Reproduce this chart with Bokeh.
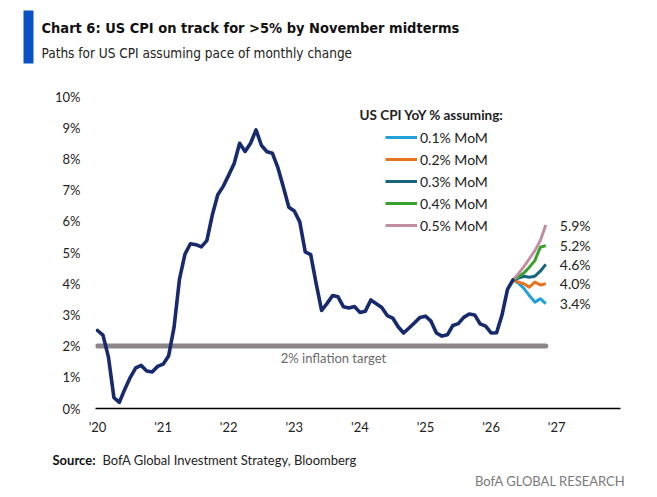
from bokeh.plotting import figure
from bokeh.layouts import column
from bokeh.models import (Range1d, FixedTicker, Label, Legend, LegendItem,
                          ColumnDataSource)
from bokeh.core.properties import value
from bokeh.embed import file_html
from bokeh.resources import INLINE

# ---------------- data ----------------
# US CPI YoY %, monthly, Jan 2020 .. May 2026
cpi = [2.50, 2.35, 1.65, 0.35, 0.20, 0.62, 1.00, 1.30, 1.38, 1.20, 1.17, 1.35,
       1.42, 1.68, 2.60, 4.15, 4.95, 5.28, 5.25, 5.18, 5.38, 6.20, 6.85, 7.12,
       7.48, 7.85, 8.50, 8.24, 8.50, 8.93, 8.43, 8.23, 8.18, 7.72, 7.10, 6.45,
       6.33, 5.98, 5.02, 4.93, 4.00, 3.14, 3.37, 3.62, 3.58, 3.26, 3.22, 3.27,
       3.08, 3.12, 3.48, 3.36, 3.24, 2.98, 2.90, 2.62, 2.42, 2.58, 2.75, 2.92,
       2.96, 2.80, 2.42, 2.32, 2.36, 2.66, 2.72, 2.92, 3.03, 3.00, 2.71, 2.64,
       2.42, 2.43, 3.00, 3.82, 4.12]
months = list(range(len(cpi)))  # month index, 0 = Jan 2020

# projections May 2026 .. Nov 2026
proj_months = list(range(76, 83))
proj_01 = [4.12, 4.02, 3.85, 3.62, 3.41, 3.52, 3.36]
proj_02 = [4.12, 4.05, 4.00, 3.89, 4.05, 3.96, 4.00]
proj_03 = [4.12, 4.18, 4.24, 4.21, 4.24, 4.40, 4.62]
proj_04 = [4.12, 4.22, 4.34, 4.53, 4.74, 5.17, 5.22]
proj_05 = [4.12, 4.32, 4.55, 4.80, 5.06, 5.38, 5.88]
proj_names = ["0.1% MoM", "0.2% MoM", "0.3% MoM", "0.4% MoM", "0.5% MoM"]
proj_colors = ["#22a0dc", "#e8731e", "#17657c", "#36a12b", "#c38ea3"]

target = 2.0
year_ticks = [0, 12, 24, 36, 48, 60, 72, 84]
year_labels = ["'20", "'21", "'22", "'23", "'24", "'25", "'26", "'27"]
y_ticks = list(range(0, 11))
y_labels = [f"{v}%" for v in y_ticks]

title_text = "Chart 6: US CPI on track for >5% by November midterms"
subtitle_text = "Paths for US CPI assuming pace of monthly change"
legend_title = "US CPI YoY % assuming:"
target_text = "2% inflation target"
source_bold = "Source:"
source_text = "BofA Global Investment Strategy, Bloomberg"
brand_text = "BofA GLOBAL RESEARCH"

# ---------------- layout ----------------
W = 657
HEAD_H, MAIN_H, FOOT_H = 78, 367, 52
FL, FR = 95, 620                 # frame left/right px
FT, FB = 90 - HEAD_H, 408 - HEAD_H   # frame top/bottom within main figure
X0, PXM = 97.0, 65.6 / 12        # px of month 0, px per month
PXP = 31.2                       # px per 1 %

def xd(px):
    return (px - X0) / PXM

def yd(py):
    return (FB - py) / PXP

FONT = value("Lato")
NARROW = value("'DejaVu Sans Condensed', Lato")


def blank(h):
    f = figure(width=W, height=h, output_backend="svg", toolbar_location=None,
               x_range=Range1d(0, W), y_range=Range1d(h, 0),
               x_axis_type=None, y_axis_type=None, min_border=0,
               frame_align=False)
    f.outline_line_color = None
    f.xgrid.grid_line_color = None
    f.ygrid.grid_line_color = None
    return f


# header
head = blank(HEAD_H)
head.quad(left=[23], right=[33], top=[10], bottom=[63], fill_color="#0a52c4",
          line_color=None)
head.text([41], [27], text=[title_text], text_baseline="middle", text_font=NARROW,
          text_font_style="bold", text_font_size="14.5px", text_color="#111111")
head.text([41], [52], text=[subtitle_text], text_baseline="middle", text_font=NARROW,
          text_font_size="13.5px", text_color="#222222")

# main chart
p = figure(width=W, height=MAIN_H, output_backend="svg", toolbar_location=None,
           x_range=Range1d(xd(FL), xd(FR)), y_range=Range1d(0, yd(FT)),
           min_border_left=FL, min_border_right=W - FR,
           min_border_top=FT, min_border_bottom=MAIN_H - FB, frame_align=False)
p.outline_line_color = None
p.xgrid.grid_line_color = None
p.ygrid.grid_line_color = None

p.xaxis.ticker = FixedTicker(ticks=year_ticks)
p.xaxis.major_label_overrides = {t: l for t, l in zip(year_ticks, year_labels)}
p.xaxis.axis_line_color = "black"
p.xaxis.axis_line_width = 1.6
p.xaxis.major_tick_line_color = None
p.xaxis.minor_tick_line_color = None
p.xaxis.major_tick_out = 0
p.xaxis.major_label_standoff = 10
p.yaxis.ticker = FixedTicker(ticks=y_ticks)
p.yaxis.major_label_overrides = {t: l for t, l in zip(y_ticks, y_labels)}
p.yaxis.axis_line_color = None
p.yaxis.major_tick_line_color = None
p.yaxis.minor_tick_line_color = None
p.yaxis.major_tick_out = 0
p.yaxis.major_label_standoff = 15
for ax in (p.xaxis[0], p.yaxis[0]):
    ax.major_label_text_font = "Lato"
    ax.major_label_text_font_size = "13px"
    ax.major_label_text_color = "#222222"

# 2% target line
p.line([months[0], proj_months[-1]], [target, target], line_color="#8d8587",
       line_width=5, line_cap="round")
p.add_layout(Label(x=xd(333), y=target, y_offset=-12, text=target_text,
                   text_align="center", text_baseline="middle", text_font="Lato",
                   text_font_size="13px", text_color="#6a6a6a"))

# projections
proj_series = [proj_01, proj_02, proj_03, proj_04, proj_05]
renderers = []
for vals, col in zip(proj_series, proj_colors):
    renderers.append(p.line(proj_months, vals, line_color=col, line_width=3,
                            line_join="round"))

# main line
p.line(months, cpi, line_color="#182a6e", line_width=3.6, line_join="round",
       line_cap="round")

# end labels
end_src = ColumnDataSource(dict(
    x=[proj_months[-1]] * 5,
    y=[s[-1] for s in proj_series],
    t=[f"{s[-1]:.1f}%" for s in proj_series]))
p.text("x", "y", text="t", source=end_src, x_offset=14, text_align="left",
       text_baseline="middle", text_font=FONT, text_font_size="14px",
       text_color="#222222")

# legend
legend = Legend(items=[LegendItem(label=n, renderers=[r])
                       for n, r in zip(proj_names, renderers)],
                location=(290, 173), glyph_width=32, glyph_height=20,
                label_height=20, label_standoff=3, spacing=2, padding=0, margin=0,
                border_line_color=None, background_fill_alpha=0,
                label_text_font="Lato", label_text_font_size="14px",
                label_text_color="#222222")
p.add_layout(legend)
p.add_layout(Label(x=xd(359), y=yd(114 - HEAD_H), text=legend_title,
                   text_baseline="middle", text_font="Lato", text_font_style="bold",
                   text_font_size="13.5px", text_color="#222222"))

# footer
foot = blank(FOOT_H)
foot.text([52], [14], text=[source_bold], text_baseline="middle", text_font=FONT,
          text_font_style="bold", text_font_size="13px", text_color="#111111")
foot.text([102], [14], text=[source_text], text_baseline="middle", text_font=FONT,
          text_font_size="13px", text_color="#222222")
foot.text([625], [35], text=[brand_text], text_align="right", text_baseline="middle",
          text_font=FONT, text_font_size="13px", text_color="#7a7a7a")

layout = column(head, p, foot, spacing=0)
open("out.html", "w").write(file_html(layout, INLINE))
